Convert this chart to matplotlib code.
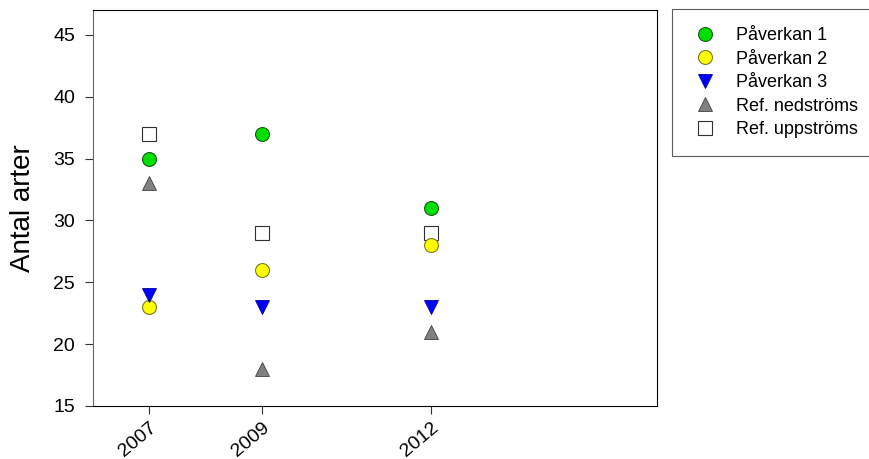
import numpy as np
import matplotlib.pyplot as plt

plt.rcParams['font.family'] = ['Liberation Sans', 'DejaVu Sans']

# provtagningsår och antal arter per lokal
ar = [2007, 2009, 2012]
paverkan1 = [35, 37, 31]
paverkan2 = [23, 26, 28]
paverkan3 = [24, 23, 23]
ref_ned = [33, 18, 21]
ref_upp = [37, 29, 29]

fig = plt.figure(figsize=(8.69, 4.59), dpi=100)
ax = fig.add_axes([93/869, 53/459, 564/869, 396/459])

ax.plot(ar, paverkan1, 'o', ms=10, mfc='#00e000', mec='#1a5a1a', mew=0.8, label='Påverkan 1', zorder=3)
ax.plot(ar, paverkan2, 'o', ms=10, mfc='#ffff00', mec='#7a7a20', mew=0.8, label='Påverkan 2', zorder=3)
ax.plot(ar, paverkan3, 'v', ms=10, mfc='#0000ff', mec='#0000a0', mew=0.6, label='Påverkan 3', zorder=4)
ax.plot(ar, ref_ned, '^', ms=10, mfc='#808080', mec='#404040', mew=0.6, label='Ref. nedströms', zorder=3)
ax.plot(ar, ref_upp, 's', ms=10, mfc='white', mec='#303030', mew=0.8, label='Ref. uppströms', zorder=2)

ax.set_xlim(2006, 2016)
ax.set_ylim(15, 47)
ax.set_xticks(ar)
ax.set_xticklabels([str(a) for a in ar], rotation=40, ha='right', rotation_mode='anchor')
ax.set_yticks(np.arange(15, 46, 5))
ax.tick_params(labelsize=14, direction='out', length=6, colors='#333333', labelcolor='black')
ax.tick_params(axis='y', pad=7)
ax.spines['left'].set_color('#666666')
ax.set_ylabel('Antal arter', fontsize=20, labelpad=12)

leg = fig.legend(loc='upper left', bbox_to_anchor=(672/869, 1 - 9/459), fontsize=13,
                 frameon=True, fancybox=False, edgecolor='#333333', labelspacing=0.36,
                 handletextpad=0.94, borderpad=1.0, handlelength=1.62, borderaxespad=0)
leg.get_frame().set_linewidth(0.8)

plt.savefig('out.png', dpi=100)
